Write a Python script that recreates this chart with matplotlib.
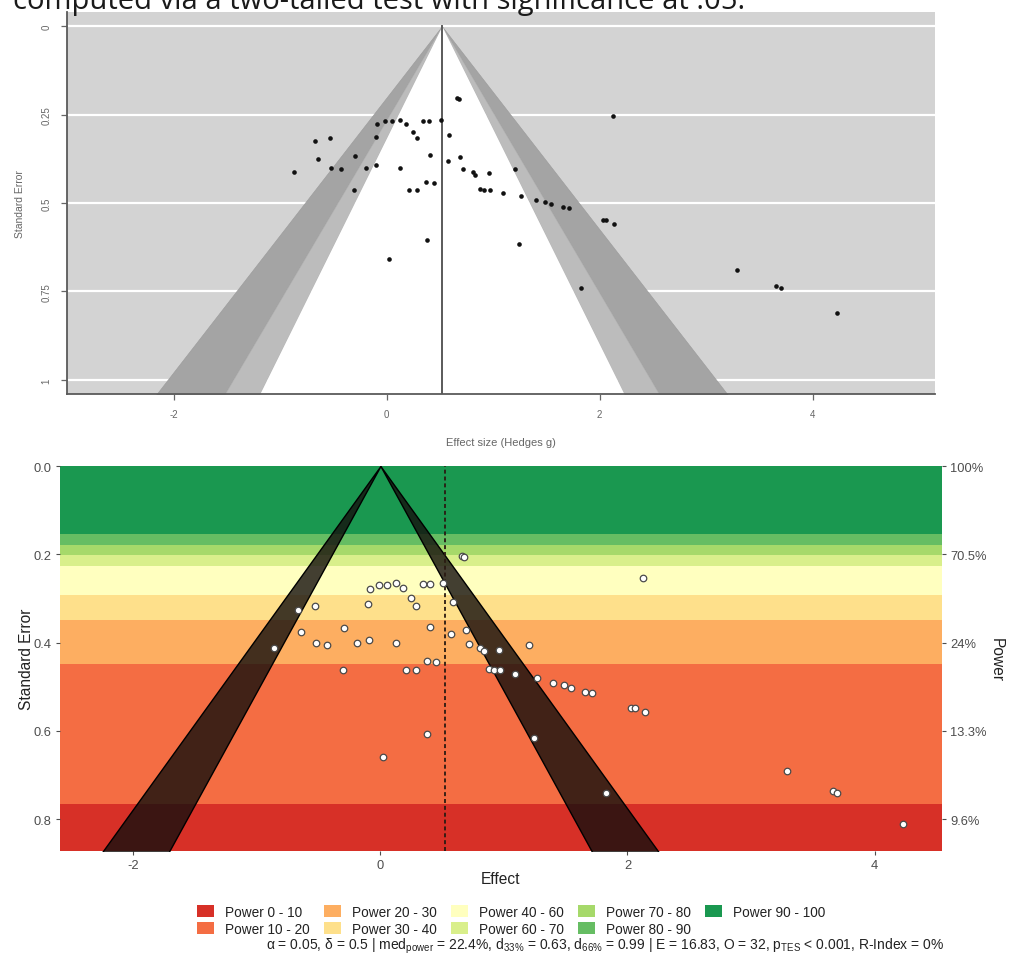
import math
import matplotlib
matplotlib.use("Agg")
import matplotlib.pyplot as plt
from matplotlib.patches import Patch

# Study effect sizes (Hedges g) and standard errors
effect = [0.66, 0.68, -0.085, -0.01, 0.05, 0.13, 0.185, 0.25, 0.285, 0.345,
          0.40, 0.51, -0.67, -0.53, -0.10, 0.59, -0.645, -0.295, 0.405, 0.69,
          0.575, -0.865, -0.525, -0.43, -0.19, -0.095, 0.13, 0.715, 0.81, 0.835,
          0.96, -0.305, 0.21, 0.285, 0.375, 0.45, 0.88, 0.92, 0.97, 1.09,
          0.38, 0.02, 1.205, 1.265, 1.40, 1.49, 1.54, 1.655, 1.715, 2.03,
          2.06, 2.14, 2.125, 1.24, 1.83, 3.29, 3.66, 3.70, 4.23]
std_err = [0.204, 0.205, 0.278, 0.269, 0.269, 0.265, 0.277, 0.298, 0.317, 0.267,
           0.267, 0.266, 0.326, 0.317, 0.312, 0.309, 0.375, 0.367, 0.364, 0.371,
           0.380, 0.412, 0.401, 0.405, 0.401, 0.393, 0.402, 0.404, 0.413, 0.420,
           0.416, 0.462, 0.462, 0.462, 0.442, 0.444, 0.460, 0.462, 0.462, 0.471,
           0.606, 0.659, 0.405, 0.481, 0.492, 0.497, 0.502, 0.511, 0.515, 0.547,
           0.549, 0.558, 0.254, 0.615, 0.740, 0.690, 0.736, 0.741, 0.810]

pooled_effect = 0.52
alpha = 0.05
delta = 0.5

# contour levels (two-sided z) for p = .10, .05, .01
z_p10, z_p05, z_p01 = 1.645, 1.96, 2.576

power_cuts = [0, 10, 20, 30, 40, 60, 70, 80, 90, 100]
power_labels = ["Power 0 - 10", "Power 10 - 20", "Power 20 - 30", "Power 30 - 40",
                "Power 40 - 60", "Power 60 - 70", "Power 70 - 80", "Power 80 - 90",
                "Power 90 - 100"]
power_colors = ["#d73027", "#f46d43", "#fdae61", "#fee08b", "#ffffbf",
                "#d9ef8b", "#a6d96a", "#66bd63", "#1a9850"]
se_ticks = [0.0, 0.2, 0.4, 0.6, 0.8]
power_tick_labels = ["100%", "70.5%", "24%", "13.3%", "9.6%"]

top_xticks = [-2, 0, 2, 4]
top_yticks = [0, 0.25, 0.5, 0.75, 1]
top_yticklabels = ["0", "0.25", "0.5", "0.75", "1"]
bottom_xticks = [-2, 0, 2, 4]

caption = "computed via a two-tailed test with significance at .05."
stats_line = ("\u03b1 = 0.05, \u03b4 = 0.5 | med$_{\\mathrm{power}}$ = 22.4%, "
              "d$_{\\mathrm{33\\%}}$ = 0.63, d$_{\\mathrm{66\\%}}$ = 0.99 | "
              "E = 16.83, O = 32, p$_{\\mathrm{TES}}$ < 0.001, R-Index = 0%")

plt.rcParams["font.family"] = ["Liberation Sans", "DejaVu Sans"]
plt.rcParams["mathtext.fontset"] = "custom"
plt.rcParams["mathtext.rm"] = "Liberation Sans"
plt.rcParams["mathtext.it"] = "Liberation Sans:italic"


def norm_cdf(z):
    return 0.5 * (1.0 + math.erf(z / math.sqrt(2.0)))


z_crit = 1.959964


def power_at(se):
    if se <= 0:
        return 1.0
    a = delta / se
    return norm_cdf(a - z_crit) + norm_cdf(-a - z_crit)


def se_for_power(p):
    # power falls monotonically as the standard error grows
    if p >= 1.0:
        return 0.0
    if p <= alpha:
        return 10.0
    lo, hi = 1e-6, 10.0
    for _ in range(200):
        mid = 0.5 * (lo + hi)
        if power_at(mid) > p:
            lo = mid
        else:
            hi = mid
    return 0.5 * (lo + hi)


W, H = 1009, 962
fig = plt.figure(figsize=(W / 100, H / 100), dpi=100)


def px_axes(left, top, right, bottom):
    return fig.add_axes([left / W, 1 - bottom / H, (right - left) / W, (bottom - top) / H])


# ---------------- contour-enhanced funnel plot ----------------
ax1 = px_axes(67, 13, 935, 395)
ax1.set_facecolor("#d3d3d3")
ax1.set_xlim(-3.0, 5.15)
ax1.set_ylim(1.04, -0.04)
for yv in top_yticks:
    ax1.axhline(yv, color="white", lw=1.6, zorder=1)

se_end = 1.2
sv = [0.0, se_end]
c = pooled_effect
# p between .05 and .01
ax1.fill_betweenx(sv, [c, c - z_p01 * se_end], [c, c - z_p05 * se_end],
                  color="#a4a4a4", lw=0.4, edgecolor="#9a9a9a", zorder=2)
ax1.fill_betweenx(sv, [c, c + z_p05 * se_end], [c, c + z_p01 * se_end],
                  color="#a4a4a4", lw=0.4, edgecolor="#9a9a9a", zorder=2)
# p between .10 and .05
ax1.fill_betweenx(sv, [c, c - z_p05 * se_end], [c, c - z_p10 * se_end],
                  color="#bcbcbc", lw=0.4, edgecolor="#b0b0b0", zorder=2)
ax1.fill_betweenx(sv, [c, c + z_p10 * se_end], [c, c + z_p05 * se_end],
                  color="#bcbcbc", lw=0.4, edgecolor="#b0b0b0", zorder=2)
# p > .10
ax1.fill_betweenx(sv, [c, c - z_p10 * se_end], [c, c + z_p10 * se_end],
                  color="white", lw=0, zorder=2)
ax1.plot([c, c], [0, se_end], color="#5a5a5a", lw=1.4, zorder=3)
ax1.scatter(effect, std_err, s=11, color="#111111", lw=0, zorder=4)

for side in ("top", "right"):
    ax1.spines[side].set_visible(False)
for side in ("left", "bottom"):
    ax1.spines[side].set_color("#5a5a5a")
    ax1.spines[side].set_linewidth(1.3)
ax1.set_xticks(top_xticks)
ax1.set_xticklabels([f"{t}" for t in top_xticks])
ax1.set_yticks(top_yticks)
ax1.set_yticklabels(top_yticklabels, rotation=90, va="center")
ax1.tick_params(colors="#666666", labelsize=7, length=4, width=0.9, pad=7)
ax1.set_xlabel("Effect size (Hedges g)", fontsize=8, color="#666666", labelpad=13)
ax1.set_ylabel("Standard Error", fontsize=7.5, color="#666666", labelpad=12)

# ---------------- sunset (power-enhanced) funnel plot ----------------
ax2 = px_axes(60, 467, 942, 852)
y_max = 0.872
ax2.set_xlim(-2.594, 4.546)
ax2.set_ylim(y_max, 0)

for k, col in enumerate(power_colors):
    se_top = se_for_power(power_cuts[k + 1] / 100.0)
    se_bot = se_for_power(power_cuts[k] / 100.0)
    ax2.axhspan(se_top, se_bot, color=col, lw=0, zorder=1)

se_end2 = 1.0
sv2 = [0.0, se_end2]
ax2.fill_betweenx(sv2, [0, -z_p01 * se_end2], [0, -z_crit * se_end2],
                  facecolor=(0.08, 0.06, 0.05, 0.8), edgecolor="black", lw=1.0, zorder=2)
ax2.fill_betweenx(sv2, [0, z_crit * se_end2], [0, z_p01 * se_end2],
                  facecolor=(0.08, 0.06, 0.05, 0.8), edgecolor="black", lw=1.0, zorder=2)
ax2.axvline(pooled_effect, color="#2a1a12", lw=1.3, ls=(0, (2.2, 1.6)), zorder=3)
ax2.scatter(effect, std_err, s=22, facecolor="white", edgecolor="#4a4a4a",
            lw=0.9, zorder=4)

for side in ax2.spines.values():
    side.set_visible(False)
ax2.set_xticks(bottom_xticks)
ax2.set_xticklabels([f"{t}" for t in bottom_xticks])
ax2.set_yticks(se_ticks)
ax2.set_yticklabels([f"{t:.1f}" for t in se_ticks])
ax2.tick_params(colors="#4d4d4d", labelsize=9.3, length=3, width=0.8, pad=3)
ax2.tick_params(axis="both", labelcolor="#4d4d4d")
ax2.set_xlabel("Effect", fontsize=11.2, color="#222222", labelpad=0)
ax2.set_ylabel("Standard Error", fontsize=11.2, color="#222222", labelpad=0)

ax3 = ax2.twinx()
ax3.set_ylim(ax2.get_ylim())
for side in ax3.spines.values():
    side.set_visible(False)
ax3.set_yticks(se_ticks)
ax3.set_yticklabels(power_tick_labels)
ax3.tick_params(colors="#4d4d4d", labelsize=9.3, length=3, width=0.8, pad=3)
ax3.set_ylabel("Power", fontsize=11.2, color="#222222", rotation=-90, labelpad=12)

handles = [Patch(facecolor=col, edgecolor="none") for col in power_colors]
fig.legend(handles, power_labels, loc="upper left",
           bbox_to_anchor=(197 / W, 1 - 906 / H), ncol=5, frameon=False,
           fontsize=9.8, handlelength=1.25, handleheight=0.95,
           handletextpad=0.8, columnspacing=1.05, labelspacing=0.2,
           borderpad=0, borderaxespad=0, labelcolor="#222222")

fig.text(944 / W, 1 - 946 / H, stats_line, ha="right", va="center",
         fontsize=10.0, color="#222222")

fig.text(13 / W, 1 - 9 / H, caption, ha="left", va="baseline",
         fontsize=21, color="#1a1a1a", family=["Open Sans", "DejaVu Sans"])

fig.savefig("out.png", dpi=100)
